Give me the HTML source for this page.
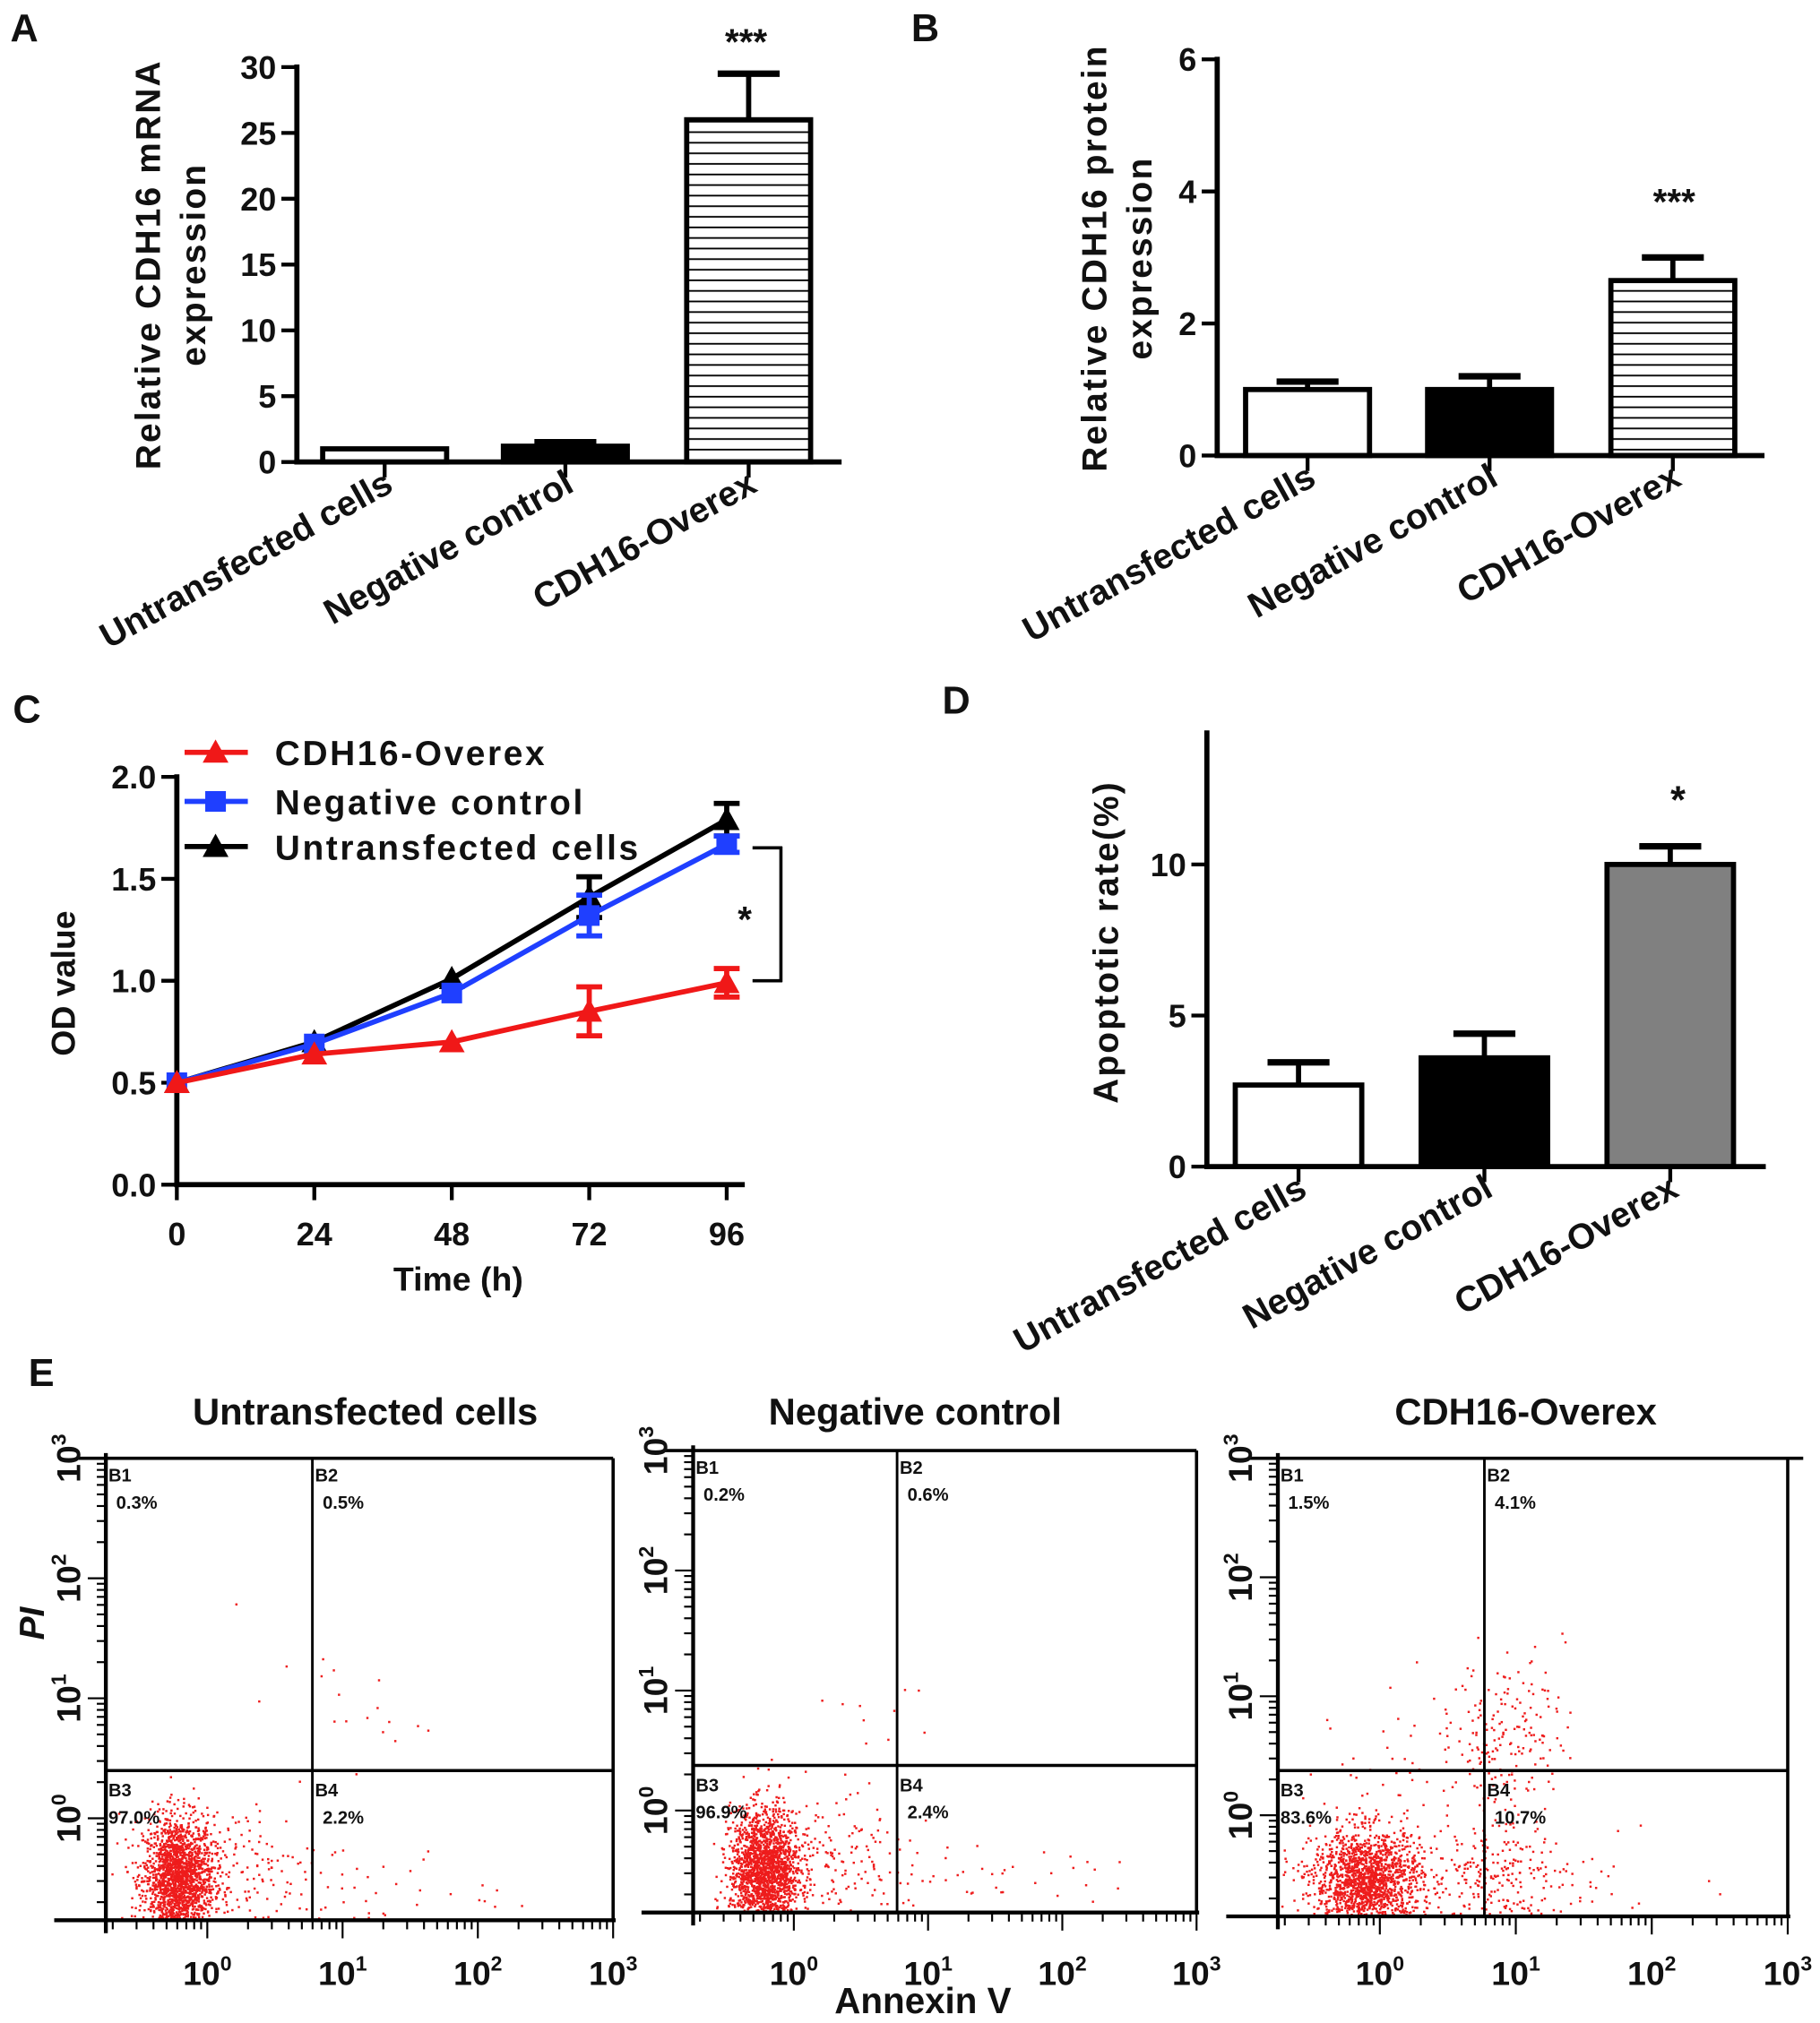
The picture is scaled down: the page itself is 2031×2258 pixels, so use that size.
<!DOCTYPE html>
<html><head><meta charset="utf-8"><style>
html,body{margin:0;padding:0;background:#fff}
svg{display:block}
text{font-family:"Liberation Sans",Arial,sans-serif;font-weight:bold;fill:#111}
</style></head><body>
<svg id="fig" width="2031" height="2258" viewBox="0 0 1410 1567.6" xmlns="http://www.w3.org/2000/svg">
<g id="root"></g>
</svg>
<script>
// ---------- data ----------
const catsA = ["Untransfected cells","Negative control","CDH16-Overex"];
const valsA = [1.0, 1.2, 26.0];
const errA = [0.0, 0.3, 3.5];
const ticksA = [0,5,10,15,20,25,30];
const valsB = [1.0, 1.0, 2.65];
const errB = [0.12, 0.2, 0.35];
const ticksB = [0,2,4,6];
const timesC = [0,24,48,72,96];
const redC = [0.50,0.64,0.70,0.85,0.99];
const redErrC = [0.02,0.03,0.02,0.12,0.07];
const blueC = [0.50,0.69,0.94,1.32,1.67];
const blueErrC = [0.02,0.02,0.03,0.10,0.04];
const blackC = [0.50,0.70,1.01,1.41,1.79];
const blackErrC = [0.02,0.02,0.02,0.10,0.08];
const ticksCy = [0.0,0.5,1.0,1.5,2.0];
const valsD = [2.7, 3.6, 10.0];
const errD = [0.75, 0.8, 0.6];
const ticksD = [0,5,10];
const flowTitles = ["Untransfected cells","Negative control","CDH16-Overex"];
const flowPct = [["0.3%","0.5%","97.0%","2.2%"],["0.2%","0.6%","96.9%","2.4%"],["1.5%","4.1%","83.6%","10.7%"]];
// clusters: [log10 x center, log10 y center, sdx, sdy, count]
const flowClusters = [
 [[-0.22,-0.5,0.13,0.26,1900],[0.2,-0.45,0.3,0.28,160],[1.2,-0.6,0.45,0.2,40],[0.9,0.9,0.35,0.25,18]],
 [[-0.22,-0.5,0.13,0.26,1900],[0.25,-0.45,0.3,0.28,150],[1.3,-0.6,0.55,0.15,45],[0.7,0.8,0.35,0.3,12]],
 [[-0.1,-0.55,0.2,0.22,1700],[0.8,-0.55,0.3,0.25,260],[0.95,0.7,0.2,0.35,170],[0.3,0.55,0.3,0.3,50],[1.5,-0.5,0.5,0.2,30]]
];

const NS="http://www.w3.org/2000/svg";
const root=document.getElementById('root');
function el(tag,attrs,parent,txt){const e=document.createElementNS(NS,tag);for(const k in attrs)e.setAttribute(k,attrs[k]);if(txt!==undefined)e.textContent=txt;(parent||root).appendChild(e);return e;}
function line(x1,y1,x2,y2,w,c,p){return el('line',{x1,y1,x2,y2,stroke:c||'#000','stroke-width':w||3},p);}

const defs=el('defs',{});
const pat=el('pattern',{id:'hatch',width:10,height:8.2,patternUnits:'userSpaceOnUse'},defs);
el('rect',{width:10,height:8.2,fill:'#fff'},pat);
el('line',{x1:0,y1:4,x2:10,y2:4,stroke:'#000','stroke-width':1.3},pat);

[["A",8,32],["B",706,32],["C",10,560],["D",730,553],["E",22,1074]].forEach(l=>{
 const t=el('text',{x:l[1],y:l[2],'font-size':30},root,l[0]);
 
 
});

function barPanel(cfg){
 const g=el('g',{});
 
 
 const y=v=>cfg.y0-(v/cfg.max)*(cfg.y0-cfg.ytop);
 cfg.vals.forEach((v,i)=>{
  const x0=cfg.bx[i],w=cfg.bw;
  const eTop=y(v+cfg.err[i]);
  if(cfg.err[i]>0){line(x0+w/2,y(v),x0+w/2,eTop,4,'#000',g);line(x0+w/2-24,eTop,x0+w/2+24,eTop,5,'#000',g);}
  const r=el('rect',{x:x0,y:y(v),width:w,height:cfg.y0-y(v),fill:cfg.fills[i],stroke:'#000','stroke-width':4},g);
  
  
  line(x0+w/2,cfg.y0,x0+w/2,cfg.y0+12,3,'#000',g);
  const lab=el('text',{x:x0+w/2+8,y:cfg.y0+22,'font-size':27.5,'text-anchor':'end',transform:`rotate(-29 ${x0+w/2+8} ${cfg.y0+22})`},g,catsA[i]);
  
  
 });
 line(cfg.ax,cfg.ytop-2,cfg.ax,cfg.y0+1.5,4,'#000',g);
 line(cfg.ax-2,cfg.y0,cfg.xend,cfg.y0,4,'#000',g);
 cfg.ticks.forEach(t=>{line(cfg.ax-12,y(t),cfg.ax,y(t),3,'#000',g);
  const tl=el('text',{x:cfg.ax-16,y:y(t)+9,'font-size':25,'text-anchor':'end'},g,String(t));
  
  });
 cfg.ytitle.forEach((s,i)=>{const t=el('text',{x:cfg.tx[i],y:cfg.ty,'font-size':27,'text-anchor':'middle','letter-spacing':1.5,transform:`rotate(-90 ${cfg.tx[i]} ${cfg.ty})`},g,s);
  
  });
 if(cfg.star){const s=el('text',{x:cfg.star[0],y:cfg.star[1],'font-size':cfg.star[2],'text-anchor':'middle'},g,cfg.star[3]);
  
  }
}
barPanel({name:'panel-a-chart',vals:valsA,err:errA,ticks:ticksA,max:30,y0:358,ytop:52,ax:230,xend:652,bx:[250,390,532],bw:96,
 fills:['#fff','#000','url(#hatch)'],ytitle:['Relative CDH16 mRNA','expression'],tx:[124,159],ty:205,star:[578,42,28,'***']});
barPanel({name:'panel-b-chart',vals:valsB,err:errB,ticks:ticksB,max:6,y0:353,ytop:46,ax:943,xend:1367,bx:[965,1106,1248],bw:96,
 fills:['#fff','#000','url(#hatch)'],ytitle:['Relative CDH16 protein','expression'],tx:[857,892],ty:200,star:[1297,166,28,'***']});
barPanel({name:'panel-d-chart',vals:valsD,err:errD,ticks:ticksD,max:14.35,y0:904,ytop:568,ax:935,xend:1368,bx:[957,1101,1245],bw:98,
 fills:['#fff','#000','#808080'],ytitle:['Apoptotic rate(%)'],tx:[866],ty:730,star:[1300,630,30,'*']});

// ---------- panel C ----------
(function(){
 const g=el('g',{});
 
 
 const X=t=>137+t*(563-137)/96, Y=v=>918-v*158;
 line(137,600,137,919.5,4,'#000',g);line(135,918,577,918,4,'#000',g);
 ticksCy.forEach(t=>{line(125,Y(t),137,Y(t),3,'#000',g);
  const tl=el('text',{x:121,y:Y(t)+9,'font-size':25,'text-anchor':'end'},g,t.toFixed(1));
  
  });
 timesC.forEach(t=>{line(X(t),918,X(t),930,3,'#000',g);
  const tl=el('text',{x:X(t),y:965,'font-size':25,'text-anchor':'middle'},g,String(t));
  
  });
 const xt=el('text',{x:355,y:1000,'font-size':26,'text-anchor':'middle'},g,'Time (h)');
 
 
 const yt=el('text',{x:58,y:762,'font-size':26,'text-anchor':'middle',transform:'rotate(-90 58 762)'},g,'OD value');
 
 
 const series=[["untransfected",blackC,blackErrC,'#000','tri'],["negative-control",blueC,blueErrC,'#1f3fff','sq'],["cdh16-overex",redC,redErrC,'#f01818','tri']];
 function marker(x,y,kind,c,p){ if(kind==='sq') return el('rect',{x:x-8,y:y-8,width:16,height:16,fill:c},p);
  return el('polygon',{points:`${x},${y-10} ${x-10},${y+8} ${x+10},${y+8}`,fill:c},p);}
 series.forEach(s=>{
  const sg=el('g',{},g);
  
  
  el('polyline',{points:s[1].map((v,i)=>X(timesC[i])+','+Y(v)).join(' '),fill:'none',stroke:s[3],'stroke-width':4},sg);
  s[1].forEach((v,i)=>{const x=X(timesC[i]);
   if(s[2][i]>0.03){line(x,Y(v-s[2][i]),x,Y(v+s[2][i]),4,s[3],sg);
    line(x-10,Y(v-s[2][i]),x+10,Y(v-s[2][i]),4,s[3],sg);line(x-10,Y(v+s[2][i]),x+10,Y(v+s[2][i]),4,s[3],sg);}
   const m=marker(x,Y(v),s[4],s[3],sg);
   
   });
 });
 [["CDH16-Overex",'#f01818','tri',583],["Negative control",'#1f3fff','sq',621],["Untransfected cells",'#000','tri',656]].forEach(l=>{
  const lg=el('g',{},g);
  
  
  line(143,l[3],192,l[3],4,l[1],lg);marker(167,l[3],l[2],l[1],lg);
  el('text',{x:213,y:l[3]+10,'font-size':27,'letter-spacing':1.8},lg,l[0]);
 });
 line(583,657,606,657,2.5,'#000',g);line(605,656,605,761,2.5,'#000',g);line(583,760,606,760,2.5,'#000',g);
 const st=el('text',{x:577,y:722,'font-size':28,'text-anchor':'middle'},g,'*');
 
 
})();

// ---------- panel E ----------
let seed=12345;
function rnd(){seed=(seed*1103515245+12345)%2147483648;return seed/2147483648;}
function gauss(){let u=rnd()||1e-6,v=rnd();return Math.sqrt(-2*Math.log(u))*Math.cos(2*Math.PI*v);}
const plots=[{l:82,r:475,t:1130,b:1488,qx:242,qy:1372,tx:283},{l:537,r:927,t:1124,b:1482,qx:695,qy:1368,tx:709},{l:990,r:1385,t:1130,b:1485,qx:1150,qy:1372,tx:1182}];
plots.forEach((p,k)=>{
 const g=el('g',{});
 
 
 const lx0=-0.75,lx1=3.0,ly0=-0.85,ly1=3.0;
 const X=v=>p.l+(v-lx0)/(lx1-lx0)*(p.r-p.l), Y=v=>p.b-(v-ly0)/(ly1-ly0)*(p.b-p.t);
 const ttl=el('text',{x:p.tx,y:1104,'font-size':29,'text-anchor':'middle'},g,flowTitles[k]);
 
 
 const dg=el('g',{fill:'#ee1c1c'},g);
 
 
 flowClusters[k].forEach(c=>{for(let i=0;i<c[4];i++){
  const lx=c[0]+gauss()*c[2], ly=c[1]+gauss()*c[3];
  const x=X(lx),y=Y(ly); if(x<p.l+2||x>p.r-2||y<p.t+2||y>p.b-2) continue;
  el('rect',{x:x.toFixed(1),y:y.toFixed(1),width:1.7,height:1.7},dg);}});
 line(p.l-22,p.t,p.r+(k==2?12:0),p.t,2.5,'#000',g);
 line(p.r,p.t,p.r,p.b,2.5,'#000',g);
 line(p.l,p.t-4,p.l,p.b+10,3,'#000',g);
 line(p.l-40,p.b,p.r+2,p.b,3,'#000',g);
 line(p.l,p.qy,p.r,p.qy,2.5,'#000',g);
 line(p.qx,p.t,p.qx,p.b,2,'#000',g);
 for(let d=-1;d<3;d++)for(let m=1;m<10;m++){const v=d+Math.log10(m);
  if(v>lx0&&v<=lx1){line(X(v),p.b,X(v),p.b+(m==1?14:7),1.5,'#000',g);}
  if(v>ly0&&v<=ly1){line(p.l-(m==1?14:7),Y(v),p.l,Y(v),1.5,'#000',g);}}
 line(X(3),p.b,X(3),p.b+14,1.5,'#000',g);
 for(let d=0;d<=3;d++){
  const t=el('text',{x:X(d),y:1538,'font-size':26,'text-anchor':'middle'},g);
  
  
  el('tspan',{},t,'10');el('tspan',{dy:-11,'font-size':16},t,String(d));
  const yx=p.l-20,yy=Y(d);
  const u=el('text',{x:yx,y:yy,'font-size':26,'text-anchor':'middle',transform:`rotate(-90 ${yx} ${yy})`},g);
  
  
  el('tspan',{},u,'10');el('tspan',{dy:-11,'font-size':16},u,String(d));
 }
 const q=[[p.l+2,p.t+18,'B1'],[p.qx+2,p.t+18,'B2'],[p.l+2,p.qy+20,'B3'],[p.qx+2,p.qy+20,'B4']];
 q.forEach((qq,i)=>{
  const a=el('text',{x:qq[0],y:qq[1],'font-size':14,fill:'#334'},g,qq[2]);
  
  
  const b=el('text',{x:qq[0]+(i==2?0:6),y:qq[1]+21,'font-size':14,fill:'#333'},g,flowPct[k][i]);
  
  
 });
});
const pi=el('text',{x:34,y:1258,'font-size':27,'text-anchor':'middle','font-style':'italic',transform:'rotate(-90 34 1258)'},root,'PI');


const ax=el('text',{x:715,y:1560,'font-size':28,'text-anchor':'middle'},root,'Annexin V');


</script>
</body></html>
